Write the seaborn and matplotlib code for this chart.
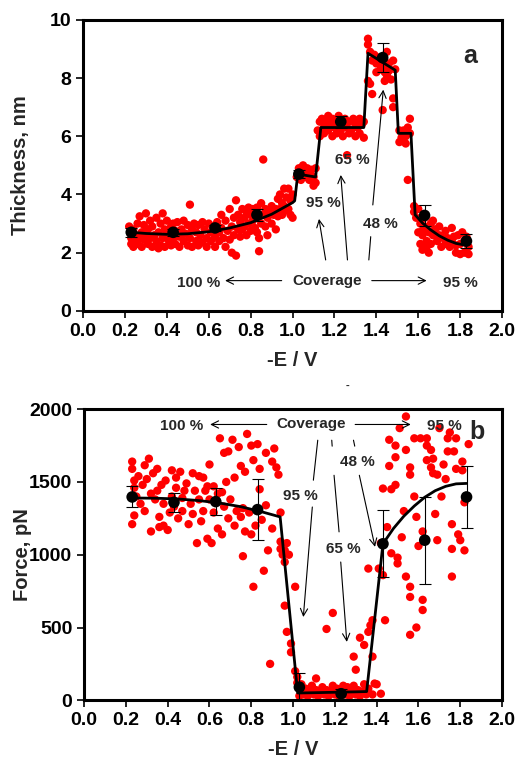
import matplotlib
matplotlib.use("Agg")
import matplotlib.pyplot as plt
import seaborn as sns
import numpy as np
import pandas as pd

# --- panel a: thickness vs potential ---
top_x = [0.22, 0.23, 0.23, 0.24, 0.24, 0.25, 0.25, 0.26, 0.26, 0.27, 0.27, 0.28, 0.28, 0.29, 0.29,
         0.30, 0.30, 0.31, 0.31, 0.32, 0.32, 0.33, 0.33, 0.34, 0.35, 0.35, 0.36, 0.36, 0.37, 0.37,
         0.38, 0.38, 0.39, 0.39, 0.40, 0.40, 0.41, 0.42, 0.42, 0.43, 0.43, 0.44, 0.44, 0.45, 0.46,
         0.46, 0.47, 0.48, 0.48, 0.49, 0.50, 0.50, 0.51, 0.51, 0.52, 0.52, 0.53, 0.54, 0.54, 0.55,
         0.55, 0.56, 0.57, 0.57, 0.58, 0.59, 0.59, 0.60, 0.61, 0.61, 0.62, 0.63, 0.63, 0.64, 0.65,
         0.65, 0.66, 0.66, 0.67, 0.68, 0.68, 0.69, 0.70, 0.70, 0.71, 0.71, 0.72, 0.72, 0.73, 0.73,
         0.74, 0.74, 0.75, 0.75, 0.76, 0.76, 0.77, 0.77, 0.78, 0.78, 0.79, 0.79, 0.80, 0.80, 0.81,
         0.81, 0.82, 0.83, 0.83, 0.84, 0.84, 0.85, 0.85, 0.86, 0.86, 0.87, 0.87, 0.88, 0.88, 0.89,
         0.90, 0.90, 0.91, 0.92, 0.92, 0.93, 0.93, 0.94, 0.94, 0.95, 0.95, 0.96, 0.96, 0.97, 0.97,
         0.98, 0.98, 0.99, 0.99, 1.00, 1.00,
         1.02, 1.03, 1.04, 1.04, 1.05, 1.06, 1.06, 1.07, 1.08, 1.08, 1.09, 1.10, 1.10, 1.11, 1.11,
         1.12, 1.13, 1.13, 1.14, 1.15, 1.15, 1.16, 1.17, 1.17, 1.18, 1.19, 1.19, 1.20, 1.21, 1.21,
         1.22, 1.23, 1.24, 1.24, 1.25, 1.26, 1.27, 1.27, 1.28, 1.29, 1.30, 1.30, 1.31, 1.32, 1.32,
         1.33, 1.34, 1.34, 1.26,
         1.36, 1.36, 1.37, 1.36, 1.37, 1.38, 1.38, 1.39, 1.40, 1.40, 1.41, 1.42, 1.43, 1.43, 1.44,
         1.44, 1.45, 1.45, 1.46, 1.47, 1.48, 1.48, 1.48, 1.49, 1.44, 1.42, 1.46,
         1.51, 1.51, 1.52, 1.53, 1.54, 1.54, 1.55, 1.56, 1.56, 1.55, 1.53,
         1.58, 1.58, 1.59, 1.60, 1.60, 1.61, 1.61, 1.62, 1.62, 1.63, 1.64, 1.64, 1.65, 1.65, 1.66,
         1.66, 1.67, 1.67, 1.68, 1.69, 1.70, 1.70, 1.71, 1.72, 1.73, 1.73, 1.74, 1.75, 1.76, 1.76,
         1.77, 1.78, 1.78, 1.79, 1.80, 1.80, 1.81, 1.82, 1.82, 1.83, 1.84, 1.84, 1.63, 1.62]
top_y = [2.90, 2.50, 2.30, 2.80, 2.20, 2.60, 2.40, 3.00, 2.30, 3.25, 2.50, 2.70, 2.20, 2.95, 2.45,
         3.35, 2.60, 2.80, 2.30, 3.10, 2.50, 2.90, 2.20, 2.60, 3.20, 2.40, 2.15, 2.70, 3.00, 2.25,
         3.35, 2.50, 2.80, 2.20, 3.10, 2.60, 2.40, 2.90, 2.25, 3.00, 2.50, 2.75, 2.30, 3.05, 2.55,
         2.20, 2.80, 3.10, 2.40, 2.65, 2.95, 2.25, 3.65, 2.50, 2.80, 2.20, 3.00, 2.40, 2.70, 2.95,
         2.25, 2.60, 3.05, 2.35, 2.80, 2.50, 2.20, 3.00, 2.70, 2.40, 2.90, 2.55, 2.20, 3.05, 2.70,
         2.40, 3.30, 2.85, 2.50, 3.10, 2.20, 2.75, 3.50, 2.45, 2.90, 2.00, 3.20, 2.60, 3.80, 1.90,
         2.80, 3.30, 3.05, 2.55, 3.50, 2.80, 3.20, 2.90, 3.40, 2.60, 3.00, 3.55, 3.30, 2.75, 3.50,
         3.10, 2.85, 3.55, 2.70, 2.50, 2.05, 3.70, 3.00, 5.20, 3.30, 2.90, 3.50, 3.20, 2.60, 3.40,
         3.00, 3.60, 3.30, 2.80, 3.50, 3.85, 3.25, 3.50, 4.00, 3.30, 3.70, 4.20, 3.60, 3.45, 3.90,
         4.20, 3.50, 3.80, 3.30, 4.00, 3.20,
         4.60, 4.90, 4.70, 4.50, 5.00, 4.80, 4.60, 4.90, 4.70, 4.50, 4.85, 4.60, 4.30, 4.90, 4.40,
         6.20, 6.50, 6.00, 6.60, 6.30, 6.10, 6.50, 6.70, 6.20, 6.40, 6.00, 6.60, 6.30, 6.50, 6.10,
         6.70, 6.20, 6.00, 6.40, 6.60, 6.30, 6.10, 6.50, 6.20, 6.60, 6.40, 6.00, 6.30, 6.60, 6.10,
         6.40, 5.95, 6.50, 5.35,
         9.35, 9.15, 8.90, 7.90, 7.80, 7.45, 8.60, 8.80, 8.50, 8.20, 8.70, 8.30, 6.90, 8.60, 8.40,
         7.90, 8.90, 8.10, 8.50, 7.95, 8.60, 7.30, 7.00, 8.30, 8.20, 8.45, 8.25,
         6.20, 5.80, 5.95, 6.20, 6.00, 5.75, 6.30, 6.60, 6.10, 4.50, 6.10,
         3.60, 3.40, 3.20, 3.50, 2.70, 3.00, 2.30, 2.60, 2.10, 2.90, 2.40, 2.20, 2.00, 2.70, 3.00,
         2.30, 3.10, 2.60, 2.80, 2.40, 2.90, 2.60, 2.20, 2.50, 2.75, 2.30, 2.50, 2.20, 2.85, 2.40,
         2.55, 2.25, 2.00, 2.60, 2.30, 1.95, 2.70, 2.40, 2.00, 2.55, 2.20, 1.95, 3.20, 2.75]

top_mean_x = [0.23, 0.43, 0.63, 0.83, 1.03, 1.23, 1.43, 1.63, 1.83]
top_mean_y = [2.70, 2.70, 2.85, 3.30, 4.70, 6.50, 8.70, 3.28, 2.40]
top_err = [0.15, 0.12, 0.10, 0.20, 0.15, 0.20, 0.50, 0.35, 0.25]

top_fit_x = [0.23, 0.30, 0.40, 0.50, 0.60, 0.70, 0.80, 0.90, 1.00, 1.01, 1.025, 1.11, 1.135,
             1.34, 1.36, 1.49, 1.505, 1.565, 1.585, 1.62, 1.66, 1.70, 1.74, 1.78, 1.83]
top_fit_y = [2.70, 2.66, 2.63, 2.65, 2.72, 2.85, 3.03, 3.32, 3.72, 3.78, 4.70, 4.60, 6.30,
             6.30, 8.85, 8.27, 6.10, 6.10, 3.30, 3.02, 2.78, 2.58, 2.43, 2.32, 2.25]

# --- panel b: adhesion force vs potential ---
bot_x = [0.23, 0.23, 0.23, 0.24, 0.24, 0.24, 0.25, 0.26, 0.27, 0.28, 0.29, 0.29, 0.30, 0.31, 0.32,
         0.32, 0.33, 0.34, 0.35, 0.35, 0.36, 0.36, 0.37, 0.38, 0.38, 0.39, 0.40, 0.41, 0.42, 0.42,
         0.43, 0.44, 0.44, 0.45, 0.46, 0.47, 0.47, 0.48, 0.49, 0.50, 0.51, 0.52, 0.52, 0.53, 0.54,
         0.55, 0.55, 0.56, 0.57, 0.57, 0.58, 0.59, 0.60, 0.60, 0.61, 0.62, 0.62, 0.63, 0.64, 0.64,
         0.65, 0.66, 0.67, 0.67, 0.68, 0.69, 0.69, 0.70, 0.71, 0.72, 0.72, 0.73, 0.74, 0.75, 0.75,
         0.76, 0.76, 0.77, 0.77, 0.78, 0.79, 0.80, 0.80, 0.81, 0.81, 0.82, 0.83, 0.84, 0.84, 0.85,
         0.86, 0.87, 0.87, 0.88, 0.89, 0.90, 0.90, 0.91, 0.92, 0.93, 0.94, 0.94, 0.66, 0.59,
         0.94, 0.95, 0.96, 0.96, 0.97, 0.98, 0.96, 0.97, 0.99, 0.99, 1.01, 1.01, 1.02, 1.02,
         1.03, 1.04, 1.04, 1.05, 1.06, 1.07, 1.08, 1.09, 1.10, 1.11, 1.11, 1.12, 1.13, 1.14, 1.15,
         1.16, 1.17, 1.18, 1.19, 1.20, 1.21, 1.22, 1.23, 1.24, 1.25, 1.26, 1.27, 1.28, 1.29, 1.30,
         1.31, 1.32, 1.33, 1.34, 1.35, 1.36, 1.38, 1.40, 1.42,
         1.16, 1.19, 1.29, 1.30, 1.32, 1.34, 1.36, 1.37, 1.38, 1.38, 1.39, 1.36, 1.41, 1.42, 1.43,
         1.44, 1.43,
         1.45, 1.46, 1.46, 1.47, 1.50, 1.50, 1.49, 1.49, 1.49, 1.51, 1.52, 1.54, 1.54, 1.54, 1.56,
         1.56, 1.56, 1.56, 1.56, 1.58, 1.58, 1.59, 1.59, 1.61, 1.62, 1.62, 1.62, 1.64, 1.64, 1.64,
         1.66, 1.66, 1.67, 1.67, 1.69, 1.69, 1.70, 1.71, 1.72, 1.74, 1.74, 1.75, 1.76, 1.76, 1.76,
         1.77, 1.78, 1.78, 1.79, 1.80, 1.81, 1.82, 1.82, 1.81, 1.84, 1.47, 1.53, 1.60, 1.68, 1.73]
bot_y = [1640, 1590, 1210, 1510, 1270, 1460, 1400, 1540, 1350, 1480, 1615, 1300, 1520, 1660, 1160,
         1420, 1560, 1380, 1590, 1440, 1260, 1190, 1480, 1200, 1350, 1510, 1170, 1290, 1580, 1400,
         1330, 1530, 1460, 1250, 1570, 1390, 1300, 1440, 1490, 1210, 1350, 1560, 1280, 1440, 1080,
         1540, 1380, 1230, 1530, 1300, 1440, 1110, 1380, 1620, 1080, 1290, 1470, 1370, 1180, 1420,
         1800, 1140, 1700, 1330, 1500, 1250, 1710, 1380, 1790, 1200, 1530, 1300, 1740, 1610, 1260,
         990, 1320, 1160, 1570, 1830, 1290, 1750, 1140, 1650, 780, 1200, 1760, 1590, 1450, 1240,
         890, 1700, 1340, 1030, 250, 1640, 1180, 1730, 1600, 1550, 1290, 1090, 1430, 1470,
         1040, 1000, 950, 1030, 1080, 1000, 650, 470, 390, 330, 780, 200, 160, 120,
         30, 60, 110, 40, 80, 30, 60, 100, 40, 150, 70, 30, 60, 90, 40,
         70, 30, 60, 100, 40, 80, 30, 60, 100, 40, 90, 30, 60, 100, 40,
         70, 30, 60, 110, 40, 80, 40, 110, 45,
         490, 600, 300, 210, 430, 380, 470, 515, 300, 550, 115, 905, 905, 1080, 1455,
         550, 860,
         1190, 1790, 1610, 1010, 980, 940, 1750, 1670, 1480, 1870, 1120, 1950, 1720, 850, 1550,
         1600, 780, 710, 450, 1800, 1400, 500, 1260, 1800, 690, 620, 1160, 1800, 1750, 1650,
         1720, 1600, 1660, 1560, 1550, 1100, 1870, 1400, 1620, 1800, 1710, 1840, 1210, 1040, 850,
         1710, 1590, 1800, 1140, 1100, 1640, 1360, 1030, 1580, 1760, 1450, 1300, 1060, 1280, 1520]

bot_mean_x = [0.23, 0.43, 0.63, 0.83, 1.03, 1.23, 1.43, 1.63, 1.83]
bot_mean_y = [1397, 1360, 1365, 1310, 90, 45, 1075, 1100, 1397]
bot_err = [72, 65, 95, 210, 95, 35, 230, 300, 212]

bot_fit_x = [0.23, 0.35, 0.45, 0.55, 0.65, 0.75, 0.85, 0.938, 1.022, 1.10, 1.20, 1.30, 1.352,
             1.43, 1.48, 1.53, 1.58, 1.63, 1.68, 1.73, 1.78, 1.83]
bot_fit_y = [1390, 1388, 1383, 1372, 1355, 1330, 1295, 1260, 50, 52, 55, 58, 60,
             1075, 1180, 1265, 1335, 1395, 1440, 1470, 1487, 1490]

x_ticks = [0.0, 0.2, 0.4, 0.6, 0.8, 1.0, 1.2, 1.4, 1.6, 1.8, 2.0]

sns.set_style("ticks")
plt.rcParams['font.family'] = ['Liberation Sans', 'DejaVu Sans']
plt.rcParams['font.weight'] = 'bold'
plt.rcParams['axes.labelweight'] = 'bold'

RED = '#ff0000'
ARROW = dict(arrowstyle='->', lw=0.8, color='black', mutation_scale=13, shrinkA=0, shrinkB=0)


def style_axes(ax, yticks, ylabel, ypad):
    ax.set_xlim(0, 2.0)
    ax.set_xticks(x_ticks)
    ax.set_xticklabels([f"{t:.1f}" for t in x_ticks])
    ax.set_yticks(yticks)
    ax.set_ylim(yticks[0], yticks[-1])
    ax.set_xlabel('-E / V', fontsize=14.5, labelpad=8)
    ax.set_ylabel(ylabel, fontsize=14.5, labelpad=ypad)
    ax.tick_params(axis='both', direction='out', length=5, width=1.2, labelsize=14, colors='black')
    for s in ax.spines.values():
        s.set_linewidth(2.2)
        s.set_color('black')
        s.set_visible(True)


def line_seg(ax, p0, p1):
    ax.plot([p0[0], p1[0]], [p0[1], p1[1]], color='black', lw=0.8)


fig = plt.figure(figsize=(5.16, 7.62), dpi=100)
ax1 = fig.add_axes([0.161, 0.592, 0.812, 0.382])
ax2 = fig.add_axes([0.163, 0.081, 0.810, 0.382])

# ---- panel a ----
sns.scatterplot(x=top_x, y=top_y, ax=ax1, color=RED, s=36, edgecolor='none', zorder=2)
sns.lineplot(x=top_fit_x, y=top_fit_y, ax=ax1, color='black', lw=2, sort=False, estimator=None, zorder=3)
ax1.errorbar(top_mean_x, top_mean_y, yerr=top_err, fmt='none', ecolor='black', elinewidth=0.8,
             capsize=4, capthick=0.8, zorder=4)
sns.scatterplot(x=top_mean_x, y=top_mean_y, ax=ax1, color='black', s=70, edgecolor='none', zorder=5)
style_axes(ax1, [0, 2, 4, 6, 8, 10], 'Thickness, nm', 14)

ax1.text(1.85, 8.75, 'a', fontsize=18, ha='center', va='center')
ax1.text(1.147, 3.70, '95 %', fontsize=11, ha='center', va='center')
ax1.text(1.285, 5.19, '65 %', fontsize=11, ha='center', va='center')
ax1.text(1.421, 2.99, '48 %', fontsize=11, ha='center', va='center')
ax1.text(0.55, 0.97, '100 %', fontsize=11, ha='center', va='center')
ax1.text(1.163, 1.04, 'Coverage', fontsize=11, ha='center', va='center')
ax1.text(1.80, 0.97, '95 %', fontsize=11, ha='center', va='center')
ax1.annotate('', xy=(0.678, 1.04), xytext=(0.948, 1.04), arrowprops=ARROW)
ax1.annotate('', xy=(1.64, 1.04), xytext=(1.378, 1.04), arrowprops=ARROW)
ax1.annotate('', xy=(1.126, 3.16), xytext=(1.158, 1.75), arrowprops=ARROW)
ax1.annotate('', xy=(1.230, 4.67), xytext=(1.262, 1.75), arrowprops=ARROW)
line_seg(ax1, (1.364, 1.75), (1.373, 2.55))
ax1.annotate('', xy=(1.433, 7.60), xytext=(1.383, 3.64), arrowprops=ARROW)

# ---- panel b ----
sns.scatterplot(x=bot_x, y=bot_y, ax=ax2, color=RED, s=36, edgecolor='none', zorder=2)
sns.lineplot(x=bot_fit_x, y=bot_fit_y, ax=ax2, color='black', lw=2, sort=False, estimator=None, zorder=3)
ax2.errorbar(bot_mean_x, bot_mean_y, yerr=bot_err, fmt='none', ecolor='black', elinewidth=0.8,
             capsize=4, capthick=0.8, zorder=4)
sns.scatterplot(x=bot_mean_x, y=bot_mean_y, ax=ax2, color='black', s=70, edgecolor='none', zorder=5)
style_axes(ax2, [0, 500, 1000, 1500, 2000], 'Force, pN', -2)

ax2.text(1.882, 1844, 'b', fontsize=18, ha='center', va='center')
ax2.text(0.467, 1885, '100 %', fontsize=11, ha='center', va='center')
ax2.text(1.085, 1897, 'Coverage', fontsize=11, ha='center', va='center')
ax2.text(1.724, 1885, '95 %', fontsize=11, ha='center', va='center')
ax2.text(1.033, 1402, '95 %', fontsize=11, ha='center', va='center')
ax2.text(1.241, 1036, '65 %', fontsize=11, ha='center', va='center')
ax2.text(1.308, 1638, '48 %', fontsize=11, ha='center', va='center')
ax2.annotate('', xy=(0.603, 1895), xytext=(0.874, 1895), arrowprops=ARROW)
ax2.annotate('', xy=(1.563, 1895), xytext=(1.297, 1895), arrowprops=ARROW)
line_seg(ax2, (1.118, 1787), (1.097, 1512))
ax2.annotate('', xy=(1.049, 572), xytext=(1.092, 1328), arrowprops=ARROW)
line_seg(ax2, (1.185, 1787), (1.187, 1746))
line_seg(ax2, (1.196, 1546), (1.220, 1157))
ax2.annotate('', xy=(1.257, 401), xytext=(1.228, 950), arrowprops=ARROW)
line_seg(ax2, (1.289, 1787), (1.295, 1746))
ax2.annotate('', xy=(1.392, 1054), xytext=(1.317, 1546), arrowprops=ARROW)

fig.text(0.674, 0.493, '-', fontsize=8, ha='center', va='center')

fig.savefig('out.png', dpi=100)
